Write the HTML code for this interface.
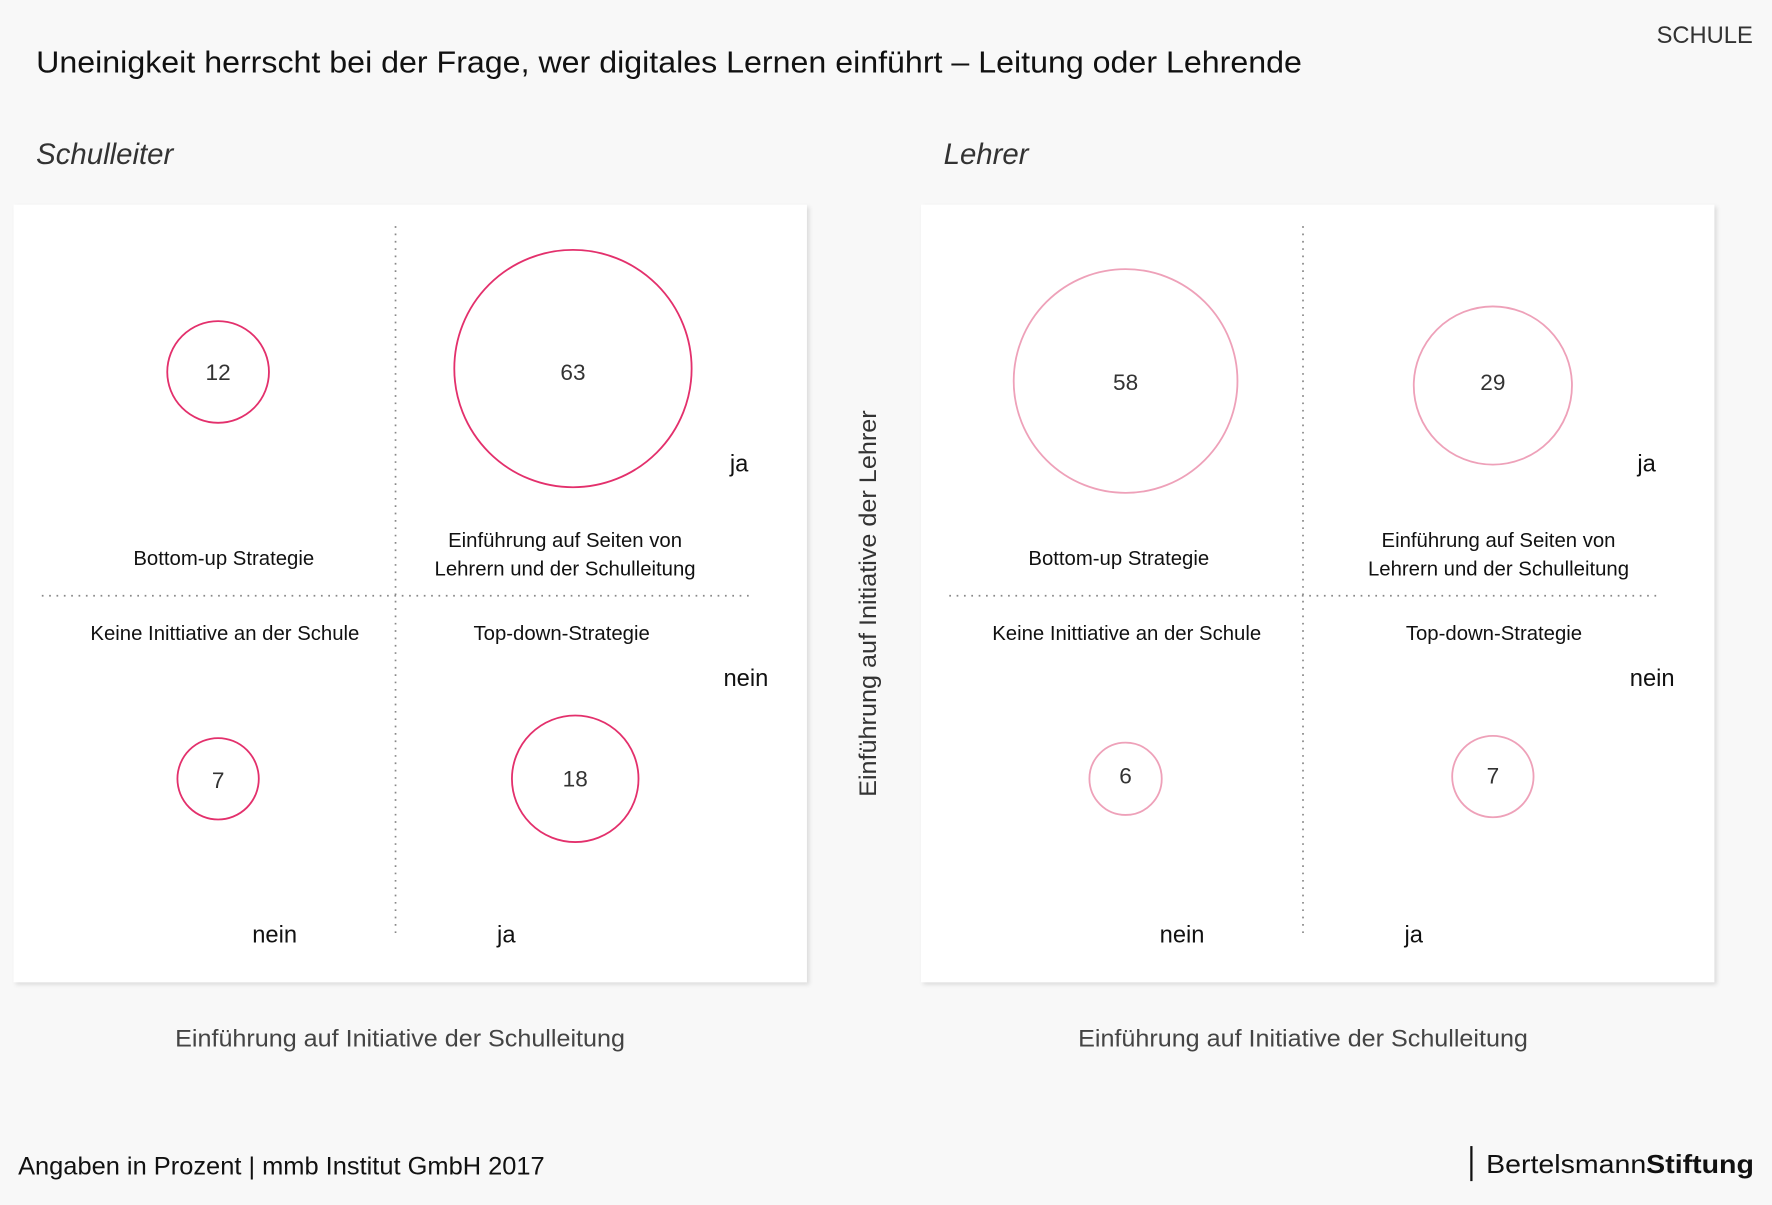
<!DOCTYPE html>
<html><head><meta charset="utf-8"><style>
html,body{margin:0;padding:0;background:#f8f8f8;}
svg{display:block;font-family:"Liberation Sans",sans-serif;}
</style></head><body>
<svg width="1772" height="1205" viewBox="0 0 1568 1066" xmlns="http://www.w3.org/2000/svg">
<defs><filter id="sh" x="-5%" y="-5%" width="110%" height="110%"><feDropShadow dx="2" dy="2" stdDeviation="2" flood-color="#000" flood-opacity="0.12"/></filter></defs>
<rect width="1568" height="1066" fill="#f8f8f8"/>
<text x="32" y="64" font-size="27" fill="#111" textLength="1120" lengthAdjust="spacingAndGlyphs">Uneinigkeit herrscht bei der Frage, wer digitales Lernen einführt – Leitung oder Lehrende</text>
<text x="1551" y="38" font-size="21" fill="#333" text-anchor="end">SCHULE</text>
<text x="32" y="145" font-size="26" font-style="italic" fill="#333">Schulleiter</text>
<text x="835" y="145" font-size="26" font-style="italic" fill="#333">Lehrer</text>
<rect x="12" y="181" width="702" height="688" fill="#fff" filter="url(#sh)"/>
<rect x="815" y="181" width="702" height="688" fill="#fff" filter="url(#sh)"/>
<g stroke="#888" stroke-width="1.5" stroke-dasharray="1.5 5">
<line x1="350" y1="200" x2="350" y2="826"/><line x1="37" y1="527" x2="665" y2="527"/>
<line x1="1153" y1="200" x2="1153" y2="826"/><line x1="840" y1="527" x2="1468" y2="527"/>
</g>
<g fill="none" stroke="#e3306c" stroke-width="1.6">
<circle cx="193" cy="329" r="45"/><circle cx="507" cy="326" r="105"/>
<circle cx="193" cy="689" r="36"/><circle cx="509" cy="689" r="56"/>
</g>
<g fill="none" stroke="#eea1b9" stroke-width="1.6">
<circle cx="996" cy="337" r="99"/><circle cx="1321" cy="341" r="70"/>
<circle cx="996" cy="689" r="32"/><circle cx="1321" cy="687" r="36"/>
</g>
<g font-size="20" fill="#333" text-anchor="middle">
<text x="193" y="336">12</text><text x="507" y="336">63</text>
<text x="193" y="697">7</text><text x="509" y="696">18</text>
<text x="996" y="345">58</text><text x="1321" y="345">29</text>
<text x="996" y="693">6</text><text x="1321" y="693">7</text>
</g>
<g font-size="18" fill="#111" text-anchor="middle">
<text x="198" y="500">Bottom-up Strategie</text>
<text x="500" y="484">Einführung auf Seiten von</text>
<text x="500" y="509">Lehrern und der Schulleitung</text>
<text x="199" y="566">Keine Inittiative an der Schule</text>
<text x="497" y="566">Top-down-Strategie</text>
<text x="990" y="500">Bottom-up Strategie</text>
<text x="1326" y="484">Einführung auf Seiten von</text>
<text x="1326" y="509">Lehrern und der Schulleitung</text>
<text x="997" y="566">Keine Inittiative an der Schule</text>
<text x="1322" y="566">Top-down-Strategie</text>
</g>
<g font-size="21" fill="#111" text-anchor="middle">
<text x="654" y="417">ja</text><text x="660" y="607">nein</text>
<text x="243" y="834">nein</text><text x="448" y="834">ja</text>
<text x="1457" y="417">ja</text><text x="1462" y="607">nein</text>
<text x="1046" y="834">nein</text><text x="1251" y="834">ja</text>
</g>
<text transform="translate(775,534) rotate(-90)" font-size="21" fill="#333" text-anchor="middle" textLength="342" lengthAdjust="spacingAndGlyphs">Einführung auf Initiative der Lehrer</text>
<text x="155" y="926" font-size="21" fill="#444" textLength="398" lengthAdjust="spacingAndGlyphs">Einführung auf Initiative der Schulleitung</text>
<text x="954" y="926" font-size="21" fill="#444" textLength="398" lengthAdjust="spacingAndGlyphs">Einführung auf Initiative der Schulleitung</text>
<text x="16" y="1039" font-size="22" fill="#111" textLength="466" lengthAdjust="spacingAndGlyphs">Angaben in Prozent  | mmb Institut GmbH 2017</text>
<line x1="1302" y1="1014" x2="1302" y2="1045" stroke="#111" stroke-width="2"/>
<text x="1315" y="1038" font-size="23" fill="#111" textLength="237" lengthAdjust="spacingAndGlyphs">Bertelsmann<tspan font-weight="bold">Stiftung</tspan></text>
</svg>
</body></html>
